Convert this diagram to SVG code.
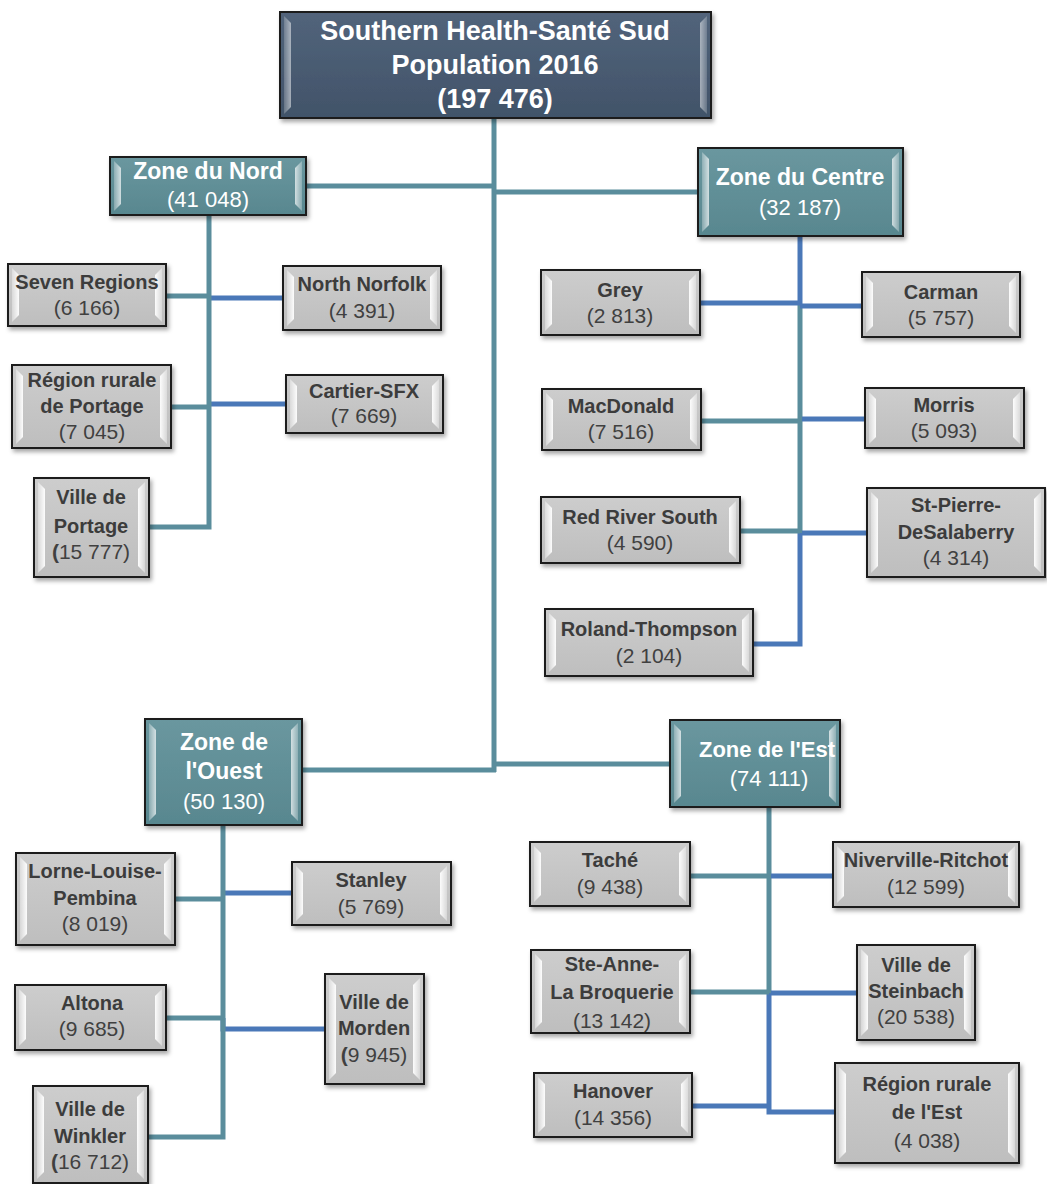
<svg xmlns="http://www.w3.org/2000/svg" width="1047" height="1184" viewBox="0 0 1047 1184">
<defs>
<filter id="sh" x="-10%" y="-10%" width="125%" height="130%"><feDropShadow dx="2" dy="3" stdDeviation="2" flood-color="#000" flood-opacity="0.35"/></filter>
<linearGradient id="gL" x1="0" y1="0" x2="1" y2="0"><stop offset="0" stop-color="#ffffff" stop-opacity="0.35"/><stop offset="1" stop-color="#ffffff" stop-opacity="0.95"/></linearGradient>
<linearGradient id="gR" x1="0" y1="0" x2="1" y2="0"><stop offset="0" stop-color="#ffffff" stop-opacity="0.95"/><stop offset="1" stop-color="#ffffff" stop-opacity="0.35"/></linearGradient>
<linearGradient id="gLeaf" x1="0" y1="0" x2="0" y2="1"><stop offset="0" stop-color="#cdcdcd"/><stop offset="1" stop-color="#bebebe"/></linearGradient>
<linearGradient id="gZone" x1="0" y1="0" x2="0" y2="1"><stop offset="0" stop-color="#6a979f"/><stop offset="1" stop-color="#58878f"/></linearGradient>
<linearGradient id="gTop" x1="0" y1="0" x2="0" y2="1"><stop offset="0" stop-color="#52647b"/><stop offset="1" stop-color="#415369"/></linearGradient>
</defs>
<style>
.leaf{fill:url(#gLeaf);stroke:#1e1e1e;stroke-width:2;filter:url(#sh)}
.zone{fill:url(#gZone);stroke:#1e1e1e;stroke-width:2;filter:url(#sh)}
.top{fill:url(#gTop);stroke:#1e1e1e;stroke-width:2;filter:url(#sh)}
.hl{fill:url(#gL)}
.hr{fill:url(#gR)}
.zone-g .hl,.zone-g .hr{opacity:0.75}
.top-g .hl,.top-g .hr{opacity:0.55}
text{font-family:"Liberation Sans",Arial,sans-serif;text-anchor:middle}
.nm{font-weight:bold;font-size:20px;fill:#3c3c3c}
.num{font-size:21px;fill:#404040}
.b{font-weight:bold}
.zt{font-weight:bold;font-size:23px;fill:#ffffff}
.zn{font-size:22px;fill:#ffffff}
.tt{font-weight:bold;font-size:27px;fill:#ffffff}
.t{stroke:#5a8d9c;stroke-width:5;fill:none}
.bl{stroke:#4a78b8;stroke-width:5;fill:none}
</style>
<g id="connectors">
<line class="t" x1="494" y1="118" x2="494" y2="772"/>
<line class="t" x1="306" y1="186" x2="496" y2="186"/>
<line class="t" x1="492" y1="192" x2="698" y2="192"/>
<line class="t" x1="302" y1="770" x2="496" y2="770"/>
<line class="t" x1="494" y1="764" x2="670" y2="764"/>
<line class="bl" x1="211" y1="298" x2="283" y2="298"/>
<line class="bl" x1="211" y1="404" x2="286" y2="404"/>
<line class="t" x1="166" y1="296" x2="209" y2="296"/>
<line class="t" x1="171" y1="407" x2="209" y2="407"/>
<path class="t" d="M209 215 V527 H149"/>
<line class="bl" x1="800" y1="236" x2="800" y2="305"/>
<line class="t" x1="800" y1="305" x2="800" y2="533"/>
<path class="bl" d="M800 533 V644 H753"/>
<line class="bl" x1="700" y1="303" x2="800" y2="303"/>
<line class="bl" x1="800" y1="306" x2="862" y2="306"/>
<line class="t" x1="701" y1="421" x2="800" y2="421"/>
<line class="bl" x1="802" y1="419" x2="865" y2="419"/>
<line class="t" x1="740" y1="531" x2="800" y2="531"/>
<line class="bl" x1="802" y1="533" x2="867" y2="533"/>
<line class="bl" x1="225" y1="893" x2="292" y2="893"/>
<path class="bl" d="M223 1018 V1029 H325"/>
<path class="t" d="M223 825 V1137 H148"/>
<line class="t" x1="175" y1="899" x2="223" y2="899"/>
<line class="t" x1="166" y1="1018" x2="223" y2="1018"/>
<line class="t" x1="769" y1="807" x2="769" y2="993"/>
<path class="bl" d="M769 993 V1112 H835"/>
<line class="bl" x1="692" y1="1106" x2="769" y2="1106"/>
<line class="t" x1="690" y1="876" x2="769" y2="876"/>
<line class="bl" x1="771" y1="876" x2="833" y2="876"/>
<line class="t" x1="690" y1="992" x2="769" y2="992"/>
<line class="bl" x1="771" y1="993" x2="857" y2="993"/>
</g>
<g id="root" class="top-g" transform="translate(280,12)">
<rect class="top" width="431" height="106"/>
<polygon class="hl" points="4,4 11,11 11,95 4,102"/><polygon class="hr" points="427,4 420,11 420,95 427,102"/>
<text class="tt" x="215" y="28">Southern Health-Santé Sud</text>
<text class="tt" x="215" y="62">Population 2016</text>
<text class="tt" x="215" y="96">(197 476)</text>
</g>
<g id="zone-nord" class="zone-g" transform="translate(110,157)">
<rect class="zone" width="196" height="58"/>
<polygon class="hl" points="4,4 11,11 11,47 4,54"/><polygon class="hr" points="192,4 185,11 185,47 192,54"/>
<text class="zt" x="98" y="22">Zone du Nord</text><text class="zn" x="98" y="50">(41 048)</text>
</g>
<g id="zone-centre" class="zone-g" transform="translate(698,148)">
<rect class="zone" width="205" height="88"/>
<polygon class="hl" points="4,4 11,11 11,77 4,84"/><polygon class="hr" points="201,4 194,11 194,77 201,84"/>
<text class="zt" x="102" y="37">Zone du Centre</text><text class="zn" x="102" y="67">(32 187)</text>
</g>
<g id="zone-ouest" class="zone-g" transform="translate(145,719)">
<rect class="zone" width="157" height="106"/>
<polygon class="hl" points="4,4 11,11 11,95 4,102"/><polygon class="hr" points="153,4 146,11 146,95 153,102"/>
<text class="zt" x="79" y="31">Zone de</text><text class="zt" x="79" y="60">l'Ouest</text><text class="zn" x="79" y="90">(50 130)</text>
</g>
<g id="zone-est" class="zone-g" transform="translate(670,720)">
<rect class="zone" width="170" height="87"/>
<polygon class="hl" points="4,4 11,11 11,76 4,83"/><polygon class="hr" points="166,4 159,11 159,76 166,83"/>
<text class="zt" x="97" y="37" style="font-size:22px">Zone de l'Est</text><text class="zn" x="99" y="66">(74 111)</text>
</g>
<g id="seven-regions" transform="translate(8,264)">
<rect class="leaf" width="158" height="62"/>
<polygon class="hl" points="4,4 11,11 11,51 4,58"/><polygon class="hr" points="154,4 147,11 147,51 154,58"/>
<text class="nm" x="79" y="25">Seven Regions</text><text class="num" x="79" y="51">(6 166)</text>
</g>
<g id="north-norfolk" transform="translate(283,266)">
<rect class="leaf" width="158" height="64"/>
<polygon class="hl" points="4,4 11,11 11,53 4,60"/><polygon class="hr" points="154,4 147,11 147,53 154,60"/>
<text class="nm" x="79" y="25">North Norfolk</text><text class="num" x="79" y="52">(4 391)</text>
</g>
<g id="region-rurale-portage" transform="translate(12,365)">
<rect class="leaf" width="159" height="83"/>
<polygon class="hl" points="4,4 11,11 11,72 4,79"/><polygon class="hr" points="155,4 148,11 148,72 155,79"/>
<text class="nm" x="80" y="22">Région rurale</text><text class="nm" x="80" y="48">de Portage</text><text class="num" x="80" y="74">(7 045)</text>
</g>
<g id="cartier-sfx" transform="translate(286,375)">
<rect class="leaf" width="157" height="58"/>
<polygon class="hl" points="4,4 11,11 11,47 4,54"/><polygon class="hr" points="153,4 146,11 146,47 153,54"/>
<text class="nm" x="78" y="23">Cartier-SFX</text><text class="num" x="78" y="48">(7 669)</text>
</g>
<g id="ville-portage" transform="translate(34,478)">
<rect class="leaf" width="115" height="99"/>
<polygon class="hl" points="4,4 11,11 11,88 4,95"/><polygon class="hr" points="111,4 104,11 104,88 111,95"/>
<text class="nm" x="57" y="26">Ville de</text><text class="nm" x="57" y="55">Portage</text><text class="num" x="57" y="81"><tspan class="b">(</tspan>15 777)</text>
</g>
<g id="grey" transform="translate(541,270)">
<rect class="leaf" width="159" height="65"/>
<polygon class="hl" points="4,4 11,11 11,54 4,61"/><polygon class="hr" points="155,4 148,11 148,54 155,61"/>
<text class="nm" x="79" y="27">Grey</text><text class="num" x="79" y="53">(2 813)</text>
</g>
<g id="carman" transform="translate(862,272)">
<rect class="leaf" width="158" height="65"/>
<polygon class="hl" points="4,4 11,11 11,54 4,61"/><polygon class="hr" points="154,4 147,11 147,54 154,61"/>
<text class="nm" x="79" y="27">Carman</text><text class="num" x="79" y="53">(5 757)</text>
</g>
<g id="macdonald" transform="translate(542,389)">
<rect class="leaf" width="159" height="61"/>
<polygon class="hl" points="4,4 11,11 11,50 4,57"/><polygon class="hr" points="155,4 148,11 148,50 155,57"/>
<text class="nm" x="79" y="24">MacDonald</text><text class="num" x="79" y="50">(7 516)</text>
</g>
<g id="morris" transform="translate(865,388)">
<rect class="leaf" width="159" height="60"/>
<polygon class="hl" points="4,4 11,11 11,49 4,56"/><polygon class="hr" points="155,4 148,11 148,49 155,56"/>
<text class="nm" x="79" y="24">Morris</text><text class="num" x="79" y="50">(5 093)</text>
</g>
<g id="red-river-south" transform="translate(541,497)">
<rect class="leaf" width="199" height="66"/>
<polygon class="hl" points="4,4 11,11 11,55 4,62"/><polygon class="hr" points="195,4 188,11 188,55 195,62"/>
<text class="nm" x="99" y="27">Red River South</text><text class="num" x="99" y="53">(4 590)</text>
</g>
<g id="st-pierre" transform="translate(867,488)">
<rect class="leaf" width="178" height="89"/>
<polygon class="hl" points="4,4 11,11 11,78 4,85"/><polygon class="hr" points="174,4 167,11 167,78 174,85"/>
<text class="nm" x="89" y="24">St-Pierre-</text><text class="nm" x="89" y="51">DeSalaberry</text><text class="num" x="89" y="77">(4 314)</text>
</g>
<g id="roland-thompson" transform="translate(545,609)">
<rect class="leaf" width="208" height="67"/>
<polygon class="hl" points="4,4 11,11 11,56 4,63"/><polygon class="hr" points="204,4 197,11 197,56 204,63"/>
<text class="nm" x="104" y="27">Roland-Thompson</text><text class="num" x="104" y="54">(2 104)</text>
</g>
<g id="lorne-louise-pembina" transform="translate(16,853)">
<rect class="leaf" width="159" height="92"/>
<polygon class="hl" points="4,4 11,11 11,81 4,88"/><polygon class="hr" points="155,4 148,11 148,81 155,88"/>
<text class="nm" x="79" y="25">Lorne-Louise-</text><text class="nm" x="79" y="52">Pembina</text><text class="num" x="79" y="78">(8 019)</text>
</g>
<g id="stanley" transform="translate(292,862)">
<rect class="leaf" width="159" height="63"/>
<polygon class="hl" points="4,4 11,11 11,52 4,59"/><polygon class="hr" points="155,4 148,11 148,52 155,59"/>
<text class="nm" x="79" y="25">Stanley</text><text class="num" x="79" y="52">(5 769)</text>
</g>
<g id="altona" transform="translate(15,985)">
<rect class="leaf" width="151" height="65"/>
<polygon class="hl" points="4,4 11,11 11,54 4,61"/><polygon class="hr" points="147,4 140,11 140,54 147,61"/>
<text class="nm" x="77" y="25">Altona</text><text class="num" x="77" y="51">(9 685)</text>
</g>
<g id="ville-morden" transform="translate(325,974)">
<rect class="leaf" width="99" height="110"/>
<polygon class="hl" points="4,4 11,11 11,99 4,106"/><polygon class="hr" points="95,4 88,11 88,99 95,106"/>
<text class="nm" x="49" y="35">Ville de</text><text class="nm" x="49" y="61">Morden</text><text class="num" x="49" y="88"><tspan class="b">(</tspan>9 945)</text>
</g>
<g id="ville-winkler" transform="translate(33,1086)">
<rect class="leaf" width="115" height="97"/>
<polygon class="hl" points="4,4 11,11 11,86 4,93"/><polygon class="hr" points="111,4 104,11 104,86 111,93"/>
<text class="nm" x="57" y="30">Ville de</text><text class="nm" x="57" y="57">Winkler</text><text class="num" x="57" y="83"><tspan class="b">(</tspan>16 712)</text>
</g>
<g id="tache" transform="translate(530,842)">
<rect class="leaf" width="160" height="64"/>
<polygon class="hl" points="4,4 11,11 11,53 4,60"/><polygon class="hr" points="156,4 149,11 149,53 156,60"/>
<text class="nm" x="80" y="25">Taché</text><text class="num" x="80" y="52">(9 438)</text>
</g>
<g id="niverville-ritchot" transform="translate(833,842)">
<rect class="leaf" width="186" height="65"/>
<polygon class="hl" points="4,4 11,11 11,54 4,61"/><polygon class="hr" points="182,4 175,11 175,54 182,61"/>
<text class="nm" x="93" y="25">Niverville-Ritchot</text><text class="num" x="93" y="52">(12 599)</text>
</g>
<g id="ste-anne" transform="translate(531,950)">
<rect class="leaf" width="159" height="83"/>
<polygon class="hl" points="4,4 11,11 11,72 4,79"/><polygon class="hr" points="155,4 148,11 148,72 155,79"/>
<text class="nm" x="81" y="21">Ste-Anne-</text><text class="nm" x="81" y="49">La Broquerie</text><text class="num" x="81" y="78">(13 142)</text>
</g>
<g id="ville-steinbach" transform="translate(857,945)">
<rect class="leaf" width="118" height="95"/>
<polygon class="hl" points="4,4 11,11 11,84 4,91"/><polygon class="hr" points="114,4 107,11 107,84 114,91"/>
<text class="nm" x="59" y="27">Ville de</text><text class="nm" x="59" y="53">Steinbach</text><text class="num" x="59" y="79">(20 538)</text>
</g>
<g id="hanover" transform="translate(534,1073)">
<rect class="leaf" width="158" height="64"/>
<polygon class="hl" points="4,4 11,11 11,53 4,60"/><polygon class="hr" points="154,4 147,11 147,53 154,60"/>
<text class="nm" x="79" y="25">Hanover</text><text class="num" x="79" y="52">(14 356)</text>
</g>
<g id="region-rurale-est" transform="translate(835,1063)">
<rect class="leaf" width="184" height="100"/>
<polygon class="hl" points="4,4 11,11 11,89 4,96"/><polygon class="hr" points="180,4 173,11 173,89 180,96"/>
<text class="nm" x="92" y="28">Région rurale</text><text class="nm" x="92" y="56">de l'Est</text><text class="num" x="92" y="85">(4 038)</text>
</g>
</svg>
